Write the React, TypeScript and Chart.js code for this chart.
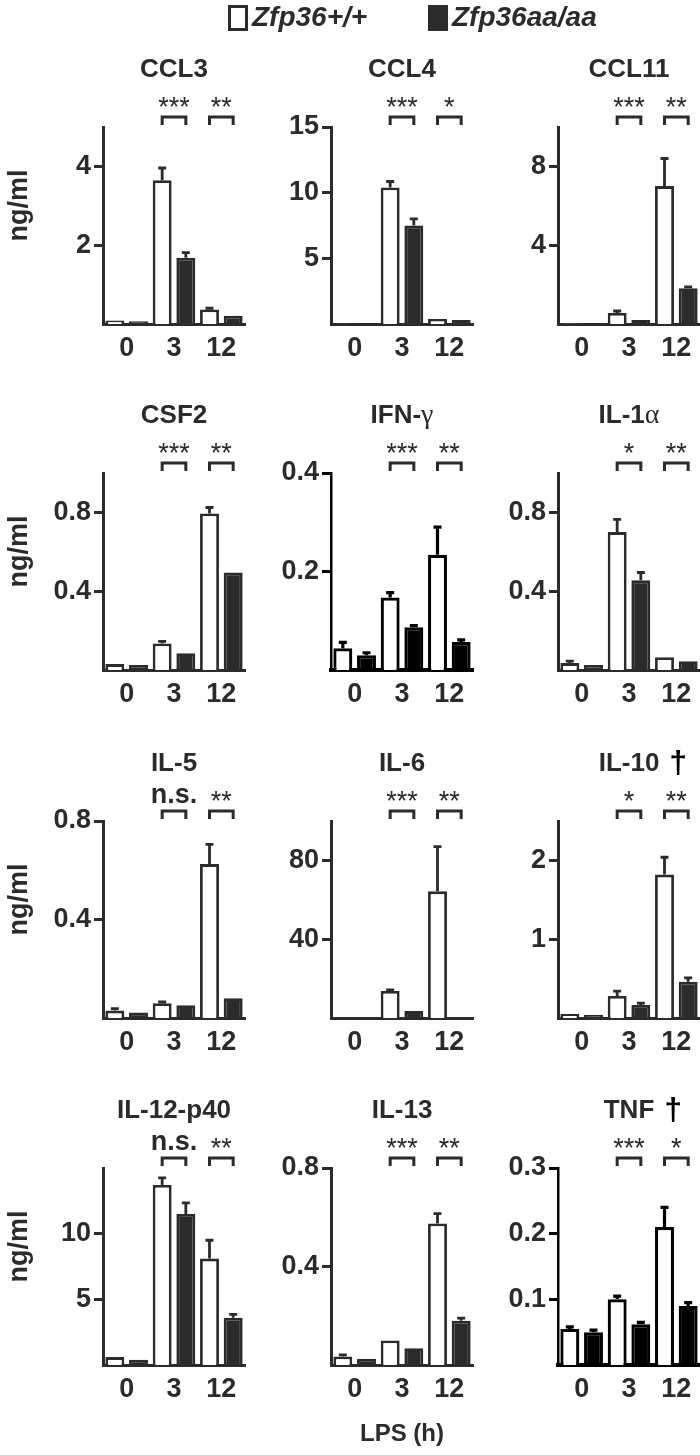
import React, { useEffect, useRef } from "react";
import { Chart, registerables } from "chart.js";
Chart.register(...registerables);

// ---------- data ----------
const timePoints = ["0", "3", "12"];
const wtName = "Zfp36+/+";
const aaName = "Zfp36aa/aa";

const ccl3Wt = [0.09, 3.65, 0.37];
const ccl3WtErr = [0.01, 0.31, 0.03];
const ccl3Aa = [0.07, 1.68, 0.21];
const ccl3AaErr = [0.01, 0.13, 0.02];
const ccl3Ticks = [2, 4];
const ccl3Sig = ["***", "**"];

const ccl4Wt = [0.02, 10.4, 0.38];
const ccl4WtErr = [0, 0.45, 0.04];
const ccl4Aa = [0.02, 7.5, 0.3];
const ccl4AaErr = [0, 0.5, 0.03];
const ccl4Ticks = [5, 10, 15];
const ccl4Sig = ["***", "*"];

const ccl11Wt = [0.03, 0.56, 7.0];
const ccl11WtErr = [0, 0.1, 1.4];
const ccl11Aa = [0.04, 0.2, 1.82];
const ccl11AaErr = [0, 0.02, 0.06];
const ccl11Ticks = [4, 8];
const ccl11Sig = ["***", "**"];

const csf2Wt = [0.03, 0.135, 0.795];
const csf2WtErr = [0.003, 0.01, 0.03];
const csf2Aa = [0.025, 0.085, 0.495];
const csf2AaErr = [0.003, 0.004, 0.005];
const csf2Ticks = [0.4, 0.8];
const csf2Sig = ["***", "**"];

const ifngWt = [0.044, 0.147, 0.234];
const ifngWtErr = [0.012, 0.01, 0.056];
const ifngAa = [0.03, 0.087, 0.057];
const ifngAaErr = [0.005, 0.003, 0.004];
const ifngTicks = [0.2, 0.4];
const ifngSig = ["***", "**"];

const il1aWt = [0.035, 0.7, 0.065];
const il1aWtErr = [0.01, 0.065, 0.003];
const il1aAa = [0.025, 0.455, 0.045];
const il1aAaErr = [0.004, 0.04, 0.003];
const il1aTicks = [0.4, 0.8];
const il1aSig = ["*", "**"];

const il5Wt = [0.03, 0.06, 0.625];
const il5WtErr = [0.008, 0.005, 0.08];
const il5Aa = [0.022, 0.052, 0.08];
const il5AaErr = [0.003, 0.003, 0.004];
const il5Ticks = [0.4, 0.8];
const il5Sig = ["n.s.", "**"];

const il6Wt = [0, 13.7, 64.3];
const il6WtErr = [0, 0.6, 22.7];
const il6Aa = [0, 3.5, 0];
const il6AaErr = [0, 0.3, 0];
const il6Ticks = [40, 80];
const il6Sig = ["***", "**"];

const il10Wt = [0.05, 0.28, 1.82];
const il10WtErr = [0.005, 0.06, 0.22];
const il10Aa = [0.04, 0.165, 0.46];
const il10AaErr = [0.004, 0.025, 0.05];
const il10Ticks = [1, 2];
const il10Sig = ["*", "**"];

const il12Wt = [0.6, 13.7, 8.1];
const il12WtErr = [0.05, 0.55, 1.4];
const il12Aa = [0.4, 11.5, 3.6];
const il12AaErr = [0.05, 0.85, 0.25];
const il12Ticks = [5, 10];
const il12Sig = ["n.s.", "**"];

const il13Wt = [0.035, 0.1, 0.575];
const il13WtErr = [0.006, 0.003, 0.04];
const il13Aa = [0.025, 0.068, 0.18];
const il13AaErr = [0.003, 0.003, 0.01];
const il13Ticks = [0.4, 0.8];
const il13Sig = ["***", "**"];

const tnfWt = [0.055, 0.1, 0.21];
const tnfWtErr = [0.003, 0.005, 0.03];
const tnfAa = [0.05, 0.062, 0.09];
const tnfAaErr = [0.003, 0.003, 0.005];
const tnfTicks = [0.1, 0.2, 0.3];
const tnfSig = ["***", "*"];

type PanelDef = {
  title: string;
  greek?: string;
  dagger?: boolean;
  dark?: boolean;
  wt: number[];
  wtErr: number[];
  aa: number[];
  aaErr: number[];
  max: number;
  ticks: number[];
  sig: string[];
};

const panels: PanelDef[] = [
  { title: "CCL3", wt: ccl3Wt, wtErr: ccl3WtErr, aa: ccl3Aa, aaErr: ccl3AaErr, max: 5, ticks: ccl3Ticks, sig: ccl3Sig },
  { title: "CCL4", wt: ccl4Wt, wtErr: ccl4WtErr, aa: ccl4Aa, aaErr: ccl4AaErr, max: 15, ticks: ccl4Ticks, sig: ccl4Sig },
  { title: "CCL11", wt: ccl11Wt, wtErr: ccl11WtErr, aa: ccl11Aa, aaErr: ccl11AaErr, max: 10, ticks: ccl11Ticks, sig: ccl11Sig },
  { title: "CSF2", wt: csf2Wt, wtErr: csf2WtErr, aa: csf2Aa, aaErr: csf2AaErr, max: 1.0, ticks: csf2Ticks, sig: csf2Sig },
  { title: "IFN-", greek: "γ", dark: true, wt: ifngWt, wtErr: ifngWtErr, aa: ifngAa, aaErr: ifngAaErr, max: 0.4, ticks: ifngTicks, sig: ifngSig },
  { title: "IL-1", greek: "α", wt: il1aWt, wtErr: il1aWtErr, aa: il1aAa, aaErr: il1aAaErr, max: 1.0, ticks: il1aTicks, sig: il1aSig },
  { title: "IL-5", wt: il5Wt, wtErr: il5WtErr, aa: il5Aa, aaErr: il5AaErr, max: 0.8, ticks: il5Ticks, sig: il5Sig },
  { title: "IL-6", wt: il6Wt, wtErr: il6WtErr, aa: il6Aa, aaErr: il6AaErr, max: 100, ticks: il6Ticks, sig: il6Sig },
  { title: "IL-10", dagger: true, wt: il10Wt, wtErr: il10WtErr, aa: il10Aa, aaErr: il10AaErr, max: 2.5, ticks: il10Ticks, sig: il10Sig },
  { title: "IL-12-p40", wt: il12Wt, wtErr: il12WtErr, aa: il12Aa, aaErr: il12AaErr, max: 15, ticks: il12Ticks, sig: il12Sig },
  { title: "IL-13", wt: il13Wt, wtErr: il13WtErr, aa: il13Aa, aaErr: il13AaErr, max: 0.8, ticks: il13Ticks, sig: il13Sig },
  { title: "TNF", dagger: true, dark: true, wt: tnfWt, wtErr: tnfWtErr, aa: tnfAa, aaErr: tnfAaErr, max: 0.3, ticks: tnfTicks, sig: tnfSig },
];

// ---------- layout ----------
const colAxisX = [103, 331, 558];
const rowAxisTop = [127, 473, 821, 1168];
const PLOT_W = 142;
const PLOT_H = 197;
const LEFT_W = 100;
const TOP_H = 100;
const BOTTOM_H = 45;
const RIGHT_PAD = 3;
const SANS = '"Liberation Sans", Arial, sans-serif';
const SERIF = '"Liberation Serif", "DejaVu Serif", serif';
const INK = "#2b2b2b";

function Panel({ def, row, col }: { def: PanelDef; row: number; col: number }) {
  const ref = useRef<HTMLCanvasElement>(null);
  const W = LEFT_W + PLOT_W + RIGHT_PAD;
  const H = TOP_H + PLOT_H + BOTTOM_H;

  useEffect(() => {
    const ink = def.dark ? "#000" : INK;
    const barLw = def.dark ? 3.2 : 2.8;
    const decor = {
      id: "decor",
      afterDatasetsDraw(chart: any) {
        const ctx = chart.ctx;
        const ys = chart.scales.y;
        ctx.save();
        ctx.strokeStyle = ink;
        ctx.lineWidth = barLw;
        const vals = [def.wt, def.aa];
        const errs = [def.wtErr, def.aaErr];
        for (let d = 0; d < 2; d++) {
          const meta = chart.getDatasetMeta(d);
          meta.data.forEach((el: any, i: number) => {
            const e = errs[d][i];
            if (!e) return;
            const top = ys.getPixelForValue(vals[d][i] + e);
            if (el.y - top < 1) return;
            ctx.beginPath();
            ctx.moveTo(el.x, el.y);
            ctx.lineTo(el.x, top);
            ctx.moveTo(el.x - 4, top);
            ctx.lineTo(el.x + 4, top);
            ctx.stroke();
          });
        }
        ctx.restore();
      },
      afterDraw(chart: any) {
        const ctx = chart.ctx;
        const area = chart.chartArea;
        const m0 = chart.getDatasetMeta(0);
        const m1 = chart.getDatasetMeta(1);
        ctx.save();
        // significance brackets
        ctx.strokeStyle = INK;
        ctx.fillStyle = INK;
        ctx.lineWidth = 3;
        for (let k = 0; k < 2; k++) {
          const idx = k + 1;
          const x0 = m0.data[idx].x;
          const x1 = m1.data[idx].x;
          const top = area.top - 10;
          const bot = area.top - 2;
          ctx.beginPath();
          ctx.moveTo(x0, bot);
          ctx.lineTo(x0, top);
          ctx.lineTo(x1, top);
          ctx.lineTo(x1, bot);
          ctx.stroke();
          const label = def.sig[k];
          ctx.textAlign = "center";
          ctx.textBaseline = "alphabetic";
          if (label === "n.s.") {
            ctx.font = `bold 27px ${SANS}`;
            ctx.fillText(label, (x0 + x1) / 2, top - 8);
          } else {
            ctx.font = `27px ${SANS}`;
            ctx.fillText(label, (x0 + x1) / 2, top - 1);
          }
        }
        // title
        const cx = (area.left + area.right) / 2;
        const base = area.top - 50;
        ctx.fillStyle = INK;
        ctx.textBaseline = "alphabetic";
        ctx.font = `bold 26px ${SANS}`;
        const mainW = ctx.measureText(def.title).width;
        let greekW = 0;
        if (def.greek) {
          ctx.font = `28px ${SERIF}`;
          greekW = ctx.measureText(def.greek).width;
        }
        const startX = cx - (mainW + greekW) / 2;
        ctx.textAlign = "left";
        ctx.font = `bold 26px ${SANS}`;
        ctx.fillText(def.title, startX, base);
        if (def.greek) {
          ctx.font = `28px ${SERIF}`;
          ctx.fillText(def.greek, startX + mainW, base);
        }
        if (def.dagger) {
          ctx.fillStyle = "#000";
          ctx.font = `bold 32px ${SANS}`;
          ctx.fillText("†", startX + mainW + greekW + 10, base + 2);
        }
        // y-axis unit label on first column
        if (col === 0) {
          ctx.save();
          ctx.fillStyle = INK;
          ctx.translate(17, (area.top + area.bottom) / 2 - 20);
          ctx.rotate(-Math.PI / 2);
          ctx.textAlign = "center";
          ctx.textBaseline = "middle";
          ctx.font = `bold 27px ${SANS}`;
          ctx.fillText("ng/ml", 0, 0);
          ctx.restore();
        }
        ctx.restore();
      },
    };

    const chart = new Chart(ref.current as HTMLCanvasElement, {
      type: "bar",
      data: {
        labels: timePoints,
        datasets: [
          {
            label: wtName,
            data: def.wt,
            backgroundColor: "#ffffff",
            borderColor: ink,
            borderWidth: barLw,
            borderSkipped: "start",
          },
          {
            label: aaName,
            data: def.aa,
            backgroundColor: ink,
            borderColor: ink,
            borderWidth: barLw,
            borderSkipped: "start",
          },
        ],
      },
      options: {
        animation: false,
        responsive: false,
        devicePixelRatio: 1,
        layout: { padding: { top: TOP_H, right: RIGHT_PAD, left: 0, bottom: 0 } },
        datasets: { bar: { categoryPercentage: 1.0, barPercentage: 0.8 } },
        plugins: {
          legend: { display: false },
          tooltip: { enabled: false },
          title: { display: false },
        },
        scales: {
          x: {
            z: 1,
            offset: true,
            grid: { display: false, drawTicks: false },
            border: { display: true, color: ink, width: def.dark ? 4 : 3 },
            ticks: { color: INK, font: { family: SANS, size: 27, weight: "bold" }, padding: 8 },
            afterFit: (s: any) => {
              s.height = BOTTOM_H;
            },
          },
          y: {
            z: 1,
            min: 0,
            max: def.max,
            afterBuildTicks: (s: any) => {
              s.ticks = def.ticks.map((v) => ({ value: v }));
            },
            ticks: {
              color: INK,
              font: { family: SANS, size: 27, weight: "bold" },
              padding: 3,
              callback: (v: any) => String(v),
            },
            grid: {
              drawOnChartArea: false,
              drawTicks: true,
              tickLength: 9,
              color: ink,
              lineWidth: 3,
            },
            border: { display: true, color: ink, width: def.dark ? 2.5 : 3 },
            afterFit: (s: any) => {
              s.width = LEFT_W;
            },
          },
        },
      },
      plugins: [decor as any],
    });
    return () => chart.destroy();
  }, []);

  return (
    <canvas
      ref={ref}
      width={W}
      height={H}
      style={{
        position: "absolute",
        left: colAxisX[col] - LEFT_W,
        top: rowAxisTop[row] - TOP_H,
        width: W,
        height: H,
      }}
    />
  );
}

export default function App() {
  const legendText: React.CSSProperties = {
    position: "absolute",
    top: 0,
    font: `italic bold 28px ${SANS}`,
    lineHeight: "34px",
    color: INK,
    whiteSpace: "nowrap",
  };
  return (
    <div
      style={{
        position: "absolute",
        left: 0,
        top: 0,
        width: 700,
        height: 1455,
        overflow: "hidden",
        background: "#fff",
      }}
    >
      {panels.map((p, i) => (
        <Panel key={p.title + i} def={p} row={Math.floor(i / 3)} col={i % 3} />
      ))}
      <div
        style={{
          position: "absolute",
          left: 228,
          top: 5,
          width: 20,
          height: 26,
          border: `3px solid ${INK}`,
          boxSizing: "border-box",
          background: "#fff",
        }}
      />
      <div style={{ ...legendText, left: 252 }}>{wtName}</div>
      <div
        style={{
          position: "absolute",
          left: 428,
          top: 5,
          width: 20,
          height: 26,
          background: INK,
        }}
      />
      <div style={{ ...legendText, left: 452 }}>{aaName}</div>
      <div
        style={{
          position: "absolute",
          left: 331,
          width: 142,
          top: 1419,
          textAlign: "center",
          font: `bold 24px ${SANS}`,
          lineHeight: "28px",
          color: INK,
        }}
      >
        LPS (h)
      </div>
    </div>
  );
}
